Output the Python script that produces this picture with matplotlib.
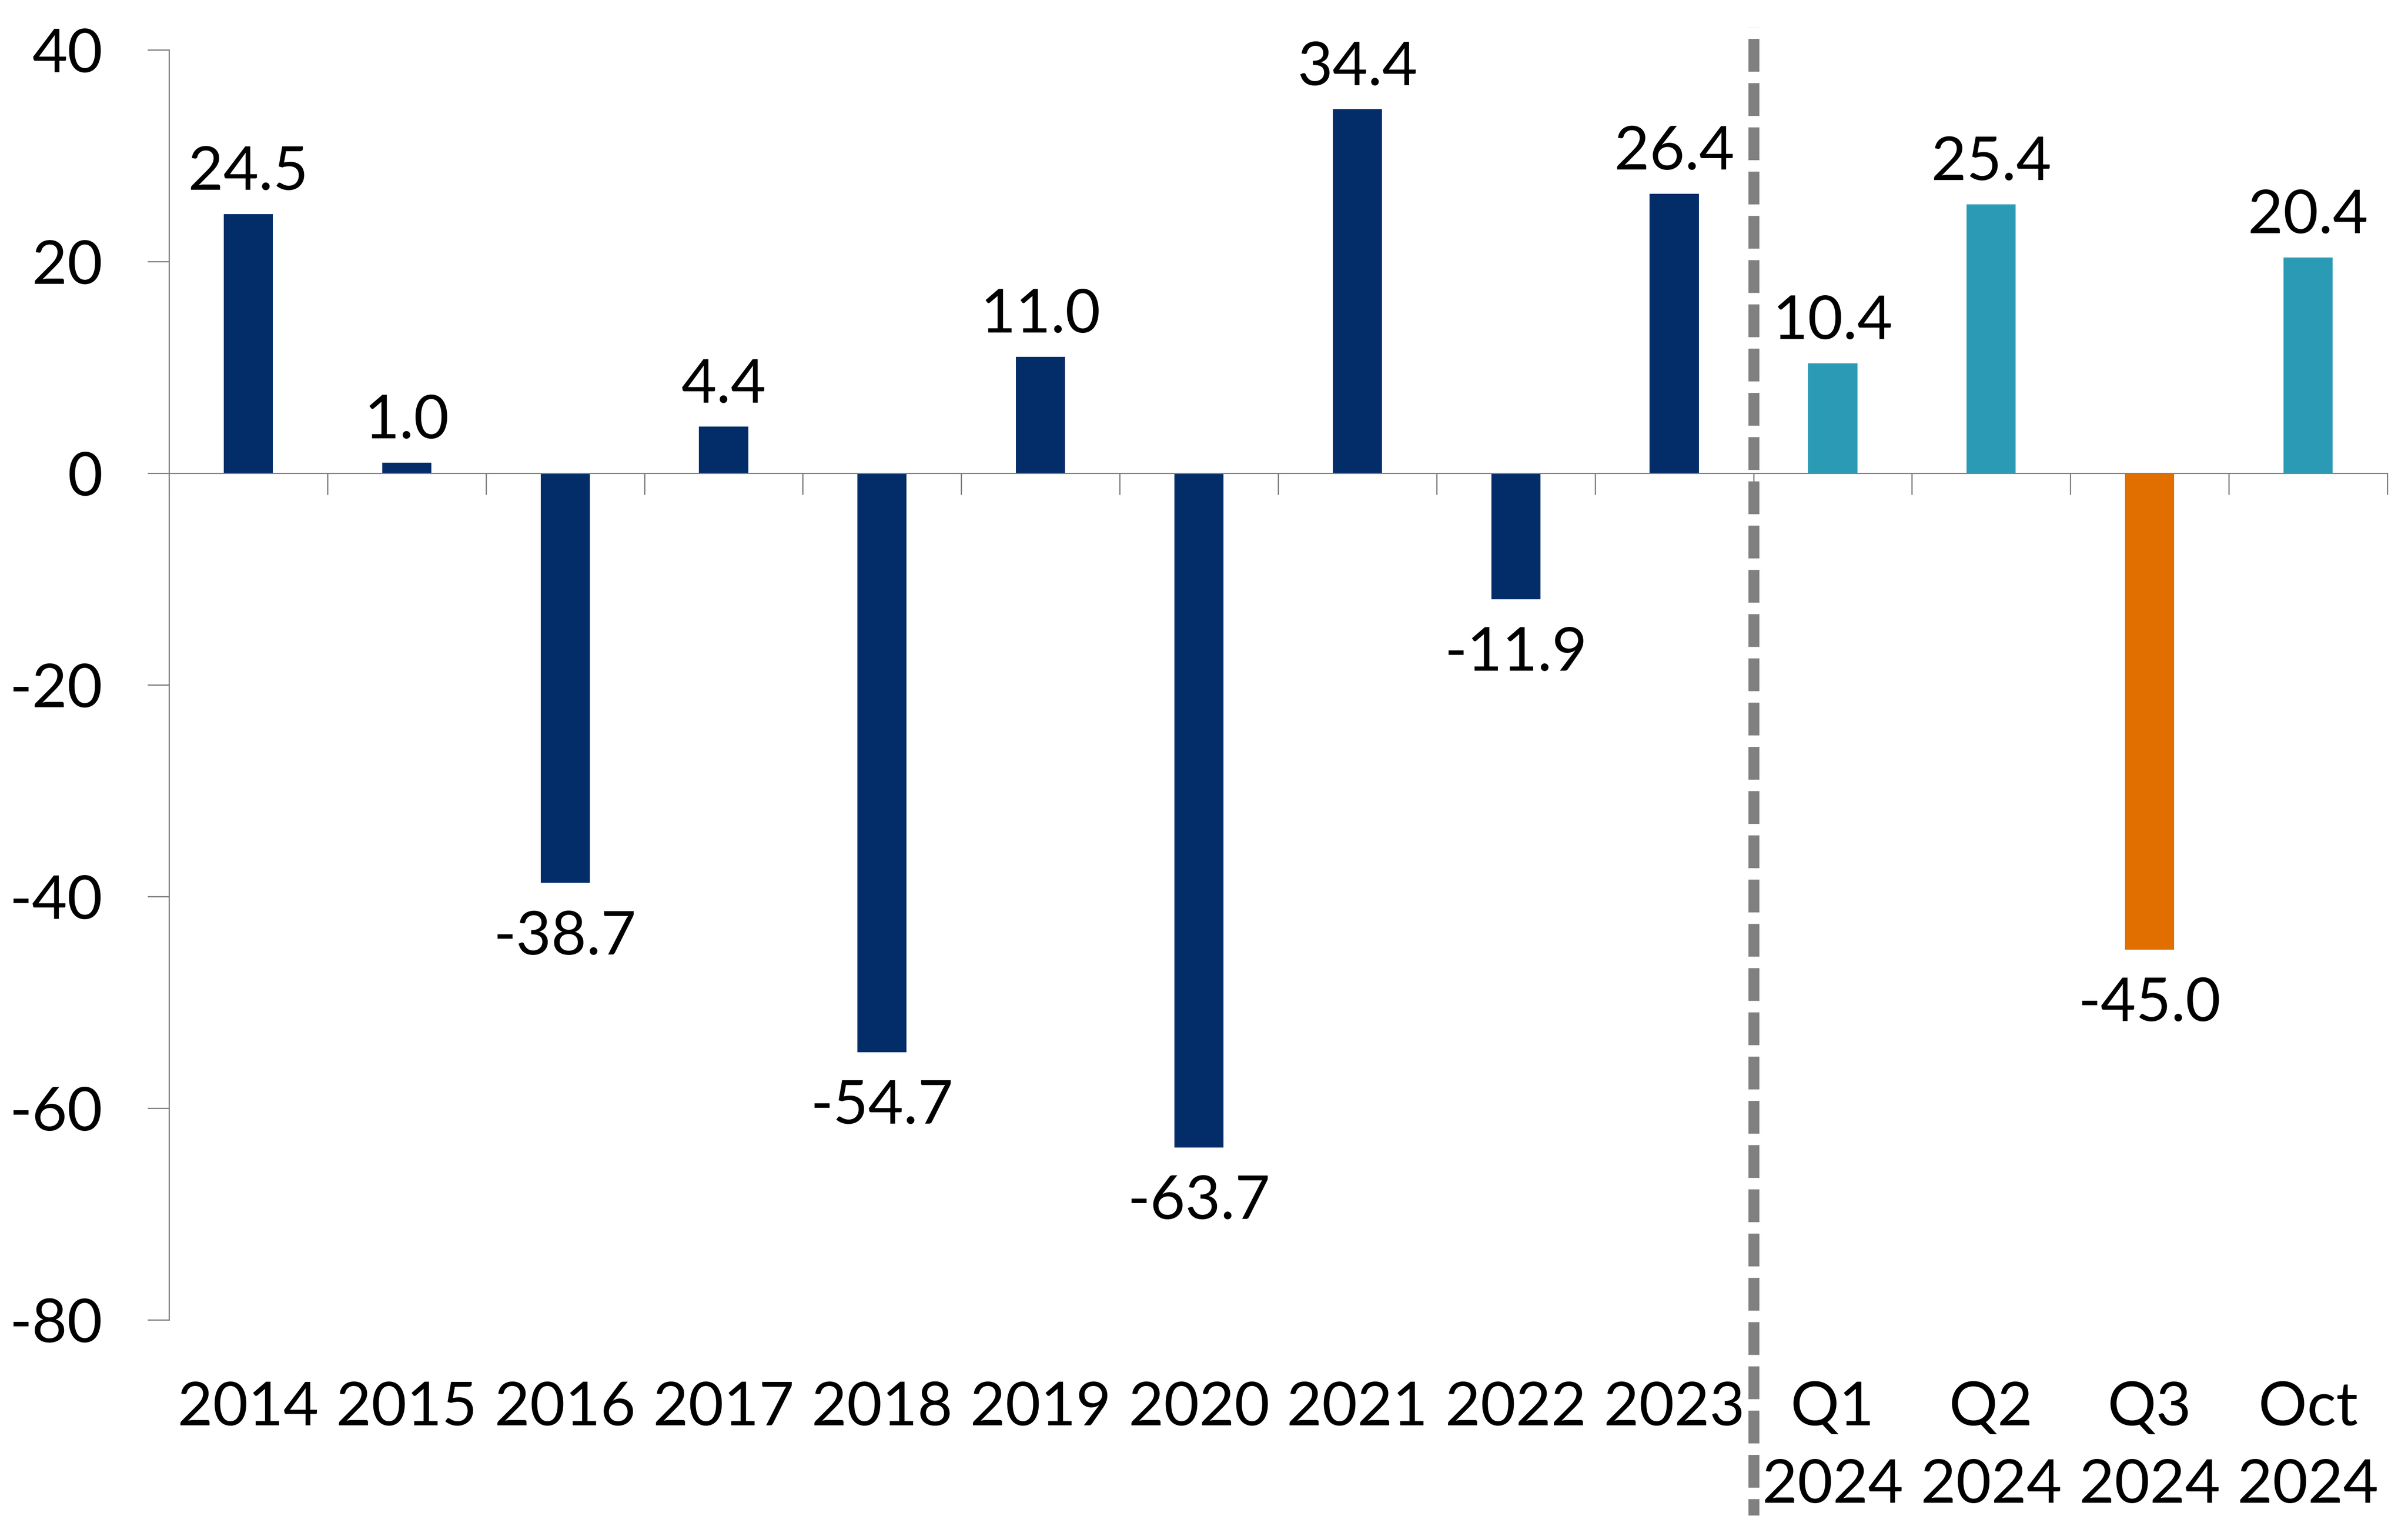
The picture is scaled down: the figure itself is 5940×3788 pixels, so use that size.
import matplotlib
matplotlib.use('Agg')
from matplotlib import pyplot as plt

# chart data
categories = ['2014', '2015', '2016', '2017', '2018', '2019', '2020', '2021', '2022', '2023',
              'Q1\n2024', 'Q2\n2024', 'Q3\n2024', 'Oct\n2024']
values = [24.5, 1.0, -38.7, 4.4, -54.7, 11.0, -63.7, 34.4, -11.9, 26.4,
          10.4, 25.4, -45.0, 20.4]
y_ticks = [-80, -60, -40, -20, 0, 20, 40]

NAVY = '#022D69'
TEAL = '#2B9BB5'
ORANGE = '#E06F00'
GRAY = '#808080'
bar_colors = [NAVY] * 10 + [TEAL, TEAL, ORANGE, TEAL]

plt.rcParams['font.family'] = ['Lato', 'DejaVu Sans']
plt.rcParams['axes.unicode_minus'] = False
FS = 54

fig = plt.figure(figsize=(29.7, 18.94), dpi=200)
ax = fig.add_axes([0.0702, 0.1407, 0.9212, 0.8268])

x = list(range(len(categories)))
ax.bar(x, values, width=0.31, color=bar_colors, zorder=2)

ax.set_xlim(-0.5, len(categories) - 0.5)
ax.set_ylim(-80, 40)

# spines
for s in ['top', 'right']:
    ax.spines[s].set_visible(False)
ax.spines['left'].set_color(GRAY)
ax.spines['left'].set_linewidth(1.1)
ax.spines['bottom'].set_position(('data', 0))
ax.spines['bottom'].set_color(GRAY)
ax.spines['bottom'].set_linewidth(1.1)
ax.spines['bottom'].set_zorder(3)

ax.set_yticks(y_ticks)
ax.set_yticklabels([str(t) for t in y_ticks])
ax.tick_params(axis='y', direction='out', length=19, width=1.1, color=GRAY,
               labelsize=FS, pad=40)

# category boundaries as ticks on the zero line
ax.set_xticks([i - 0.5 for i in range(len(categories) + 1)])
ax.set_xticklabels([])
ax.tick_params(axis='x', direction='out', length=19, width=1.1, color=GRAY)

# category labels sit at the bottom of the plot
sec = ax.secondary_xaxis('bottom')
sec.set_xticks(x)
sec.set_xticklabels(categories, linespacing=1.5)
sec.tick_params(axis='x', length=0, pad=54, labelsize=FS)
sec.spines['bottom'].set_visible(False)

# value labels
for i, v in enumerate(values):
    if v >= 0:
        ax.annotate(f'{v:.1f}', xy=(i, v), xytext=(0, 21.5), textcoords='offset points',
                    ha='center', va='baseline', fontsize=FS)
    else:
        ax.annotate(f'{v:.1f}', xy=(i, v), xytext=(0, -24), textcoords='offset points',
                    ha='center', va='top', fontsize=FS)

# separator between annual and 2024 data
ax.axvline(9.5, ymin=-0.154, ymax=1.018, color=GRAY, linewidth=9.7,
           linestyle=(1.5, (3.0, 1.05)), clip_on=False, zorder=4)

plt.savefig('out.png', dpi=200)
